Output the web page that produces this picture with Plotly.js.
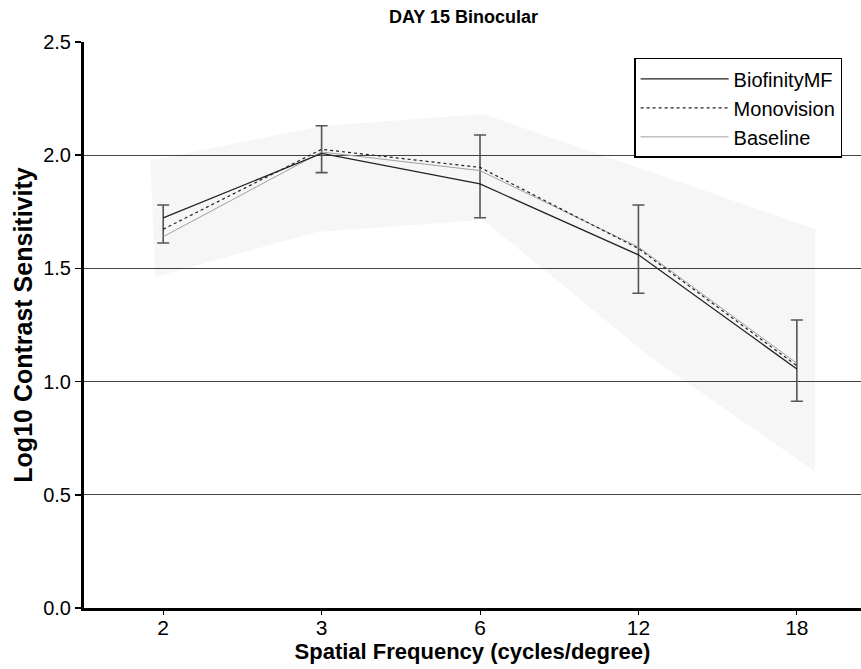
<!DOCTYPE html>
<html>
<head>
<meta charset="utf-8">
<script src="https://cdn.plot.ly/plotly-3.0.1.min.js"></script>
<style>html,body{margin:0;padding:0;background:#fff;}#chart{width:861px;height:669px;}</style>
</head>
<body>
<div id="chart"></div>
<script>
// Categories (spatial frequency, cycles/degree)
const categories = ["2", "3", "6", "12", "18"];
const xIndex = [0, 1, 2, 3, 4];

// Series values (Log10 contrast sensitivity)
const biofinityMF = [1.723, 2.008, 1.873, 1.560, 1.056];
const monovision  = [1.673, 2.026, 1.946, 1.588, 1.070];
const baseline    = [1.640, 2.014, 1.932, 1.594, 1.081];

// Error bar extents (lower and upper ends)
const errLower = [1.612, 1.923, 1.724, 1.390, 0.913];
const errUpper = [1.780, 2.130, 2.089, 1.780, 1.272];

// Normal-range shaded band (x in category index units)
const bandTopX    = [-0.082, 0.88, 1.0, 2.02, 4.116];
const bandTopY    = [1.976, 2.11, 2.129, 2.182, 1.674];
const bandBottomX = [-0.051, 0.972, 2.02, 3.074, 4.116];
const bandBottomY = [1.462, 1.661, 1.714, 1.109, 0.601];

const errMid = errLower.map((l, i) => (l + errUpper[i]) / 2);
const errPlus = errUpper.map((u, i) => u - errMid[i]);
const errMinus = errLower.map((l, i) => errMid[i] - l);

const bandX = bandTopX.concat(bandBottomX.slice().reverse());
const bandY = bandTopY.concat(bandBottomY.slice().reverse());

const traces = [
  {
    x: bandX, y: bandY, mode: "lines", fill: "toself",
    fillcolor: "rgba(0,0,0,0.035)", line: {width: 0, color: "rgba(0,0,0,0)"},
    showlegend: false, hoverinfo: "skip"
  },
  {
    x: xIndex, y: errMid, mode: "markers",
    marker: {size: 1, opacity: 0},
    error_y: {type: "data", symmetric: false, array: errPlus, arrayminus: errMinus,
              color: "#555", thickness: 1.6, width: 6},
    showlegend: false, hoverinfo: "skip"
  },
  {
    x: xIndex, y: baseline, name: "Baseline", mode: "lines",
    line: {color: "#a0a0a0", width: 1}
  },
  {
    x: xIndex, y: monovision, name: "Monovision", mode: "lines",
    line: {color: "#222", width: 1.2, dash: "dot"}
  },
  {
    x: xIndex, y: biofinityMF, name: "BiofinityMF", mode: "lines",
    line: {color: "#222", width: 1.3}
  }
];

const layout = {
  width: 861, height: 669,
  margin: {l: 84, r: 0, t: 42, b: 61},
  paper_bgcolor: "#fff", plot_bgcolor: "#fff",
  font: {family: "Liberation Sans, Arial, sans-serif", color: "#000"},
  annotations: [{
    text: "<b>DAY 15 Binocular</b>", xref: "paper", yref: "paper",
    x: 0.488, y: 1.0 + 25 / 566, xanchor: "center", yanchor: "middle",
    showarrow: false, font: {size: 18, color: "#000"}
  }],
  xaxis: {
    range: [-0.5, 4.405], tickmode: "array", tickvals: xIndex, ticktext: categories,
    showgrid: false, zeroline: false,
    showline: true, linecolor: "#000", linewidth: 3,
    ticks: "outside", ticklen: 4, tickwidth: 1, tickcolor: "#000",
    ticklabelstandoff: -5,
    tickfont: {size: 21, family: "Liberation Sans Narrow, Liberation Sans, Arial"},
    title: {text: "<b>Spatial Frequency (cycles/degree)</b>", font: {size: 22}, standoff: 0}
  },
  yaxis: {
    range: [0, 2.5], tickvals: [0, 0.5, 1.0, 1.5, 2.0, 2.5],
    ticktext: ["0.0", "0.5", "1.0", "1.5", "2.0", "2.5"],
    showgrid: true, gridcolor: "#444", gridwidth: 1, zeroline: false,
    showline: true, linecolor: "#000", linewidth: 3,
    ticks: "outside", ticklen: 6, tickwidth: 1.5, tickcolor: "#000",
    tickfont: {size: 20},
    title: {text: "<b>Log10 Contrast Sensitivity</b>", font: {size: 25}, standoff: 4}
  },
  legend: {
    x: 0.708, y: 0.972, xanchor: "left", yanchor: "top",
    bgcolor: "#fff", bordercolor: "#000", borderwidth: 1.5,
    font: {size: 20}, traceorder: "reversed", itemwidth: 88,
    tracegroupgap: 0
  },
  showlegend: true
};

Plotly.newPlot("chart", traces, layout, {staticPlot: true, displayModeBar: false});
</script>
</body>
</html>
